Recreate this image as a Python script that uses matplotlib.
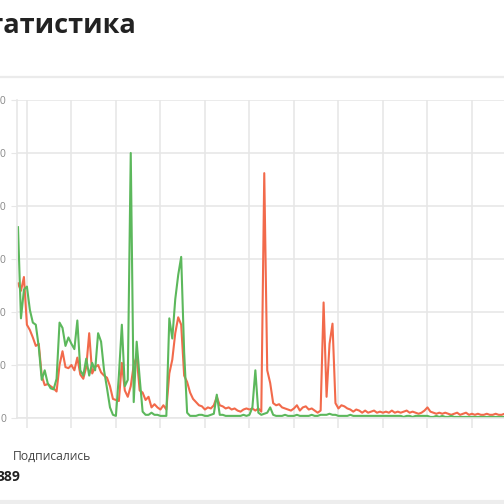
import matplotlib.pyplot as plt
from matplotlib.lines import Line2D

# Данные (по дням)
podpisalis = [180, 94, 121, 124, 102, 90, 88, 67, 36, 45, 33, 28, 27, 37, 90, 85, 68, 76, 70, 65,
              92, 45, 40, 56, 40, 52, 45, 80, 72, 45, 28, 10, 3, 2, 40, 88, 30, 36, 250, 15,
              72, 38, 6, 3, 3, 5, 3, 3, 2, 2, 2, 94, 75, 112, 135, 152, 62, 5, 2, 2,
              2, 3, 3, 2, 2, 3, 4, 22, 3, 3, 2, 2, 2, 2, 2, 2, 3, 2, 3, 10,
              45, 5, 3, 4, 5, 10, 3, 2, 2, 2, 3, 2, 2, 2, 3, 2, 2, 2, 2, 3,
              2, 2, 3, 3, 3, 4, 3, 3, 2, 2, 2, 2, 3, 2, 2, 2, 2, 2, 2, 2,
              2, 2, 2, 2, 2, 2, 2, 2, 2, 2, 1, 2, 2, 1, 2, 2, 2, 2, 2, 1,
              1, 2, 1, 2, 1, 1, 2, 1, 1, 1, 1, 1, 1, 1, 1, 1, 1, 1, 1, 1,
              1, 1, 1, 1, 1, 1]
otpisalis = [127, 120, 133, 88, 83, 76, 68, 70, 40, 31, 32, 30, 28, 25, 50, 63, 48, 47, 50, 45,
             57, 41, 37, 48, 80, 42, 48, 50, 43, 40, 38, 30, 18, 17, 16, 52, 26, 20, 30, 50,
             58, 26, 24, 17, 20, 10, 13, 10, 8, 12, 8, 42, 55, 80, 95, 88, 40, 34, 24, 18,
             15, 12, 11, 8, 10, 9, 12, 20, 12, 11, 9, 10, 8, 9, 7, 6, 8, 9, 8, 9,
             7, 9, 6, 231, 45, 33, 14, 12, 13, 10, 9, 8, 7, 9, 12, 7, 10, 11, 8, 9,
             7, 5, 7, 109, 20, 70, 89, 14, 9, 12, 11, 9, 8, 6, 8, 7, 5, 7, 5, 6,
             7, 5, 6, 5, 6, 5, 7, 5, 6, 5, 6, 7, 5, 6, 5, 4, 5, 7, 10, 6,
             5, 4, 5, 4, 5, 4, 3, 4, 5, 3, 4, 5, 3, 4, 3, 4, 3, 3, 4, 3,
             3, 4, 3, 3, 4, 3]
y_ticks = [0, 50, 100, 150, 200, 250, 300]

GREEN = '#5cb85c'
RED = '#f26a4b'
GRID = '#e7e7e7'

fig = plt.figure(figsize=(5.04, 5.04), dpi=100)
plt.rcParams['font.family'] = ['Open Sans', 'DejaVu Sans']

# верхний и нижний разделители
fig.add_artist(Line2D([0, 1], [1 - 77 / 504, 1 - 77 / 504], color='#ebebeb', lw=1.6))
fig.add_artist(Line2D([0, 1], [1 - 502 / 504, 1 - 502 / 504], color='#ededed', lw=3))

fig.text(136 / 504, 1 - 26 / 504, 'Статистика', ha='right', va='center',
         fontsize=19.5, fontweight='bold', color='#222222')
fig.text(13 / 504, 1 - 456 / 504, 'Подписались', ha='left', va='center',
         fontsize=8.7, color='#444444')
fig.text(20 / 504, 1 - 477 / 504, '389', ha='right', va='center',
         fontsize=10, fontweight='bold', color='#222222')

# оси выходят за правый край картинки
ax = fig.add_axes([17 / 504, 86 / 504, (530 - 17) / 504, 318 / 504])
step = 2.967
x = [18 + i * step for i in range(len(podpisalis))]
ax.plot(x, otpisalis, color=RED, lw=1.5)
ax.plot(x, podpisalis, color=GREEN, lw=1.5)

ax.set_xlim(17, 530)
ax.set_ylim(0, 300)
ax.set_yticks(y_ticks)
ax.set_yticklabels([str(v) for v in y_ticks], fontsize=7.5, color='#888888')
ax.set_xticks([18 + k * step for k in range(3, len(x), 15)])
ax.set_xticklabels([])
ax.tick_params(axis='y', length=4, color=GRID, pad=4)
ax.tick_params(axis='x', length=7, color=GRID, width=1.2)
ax.grid(True, color=GRID, lw=1.2)
ax.set_axisbelow(True)
for s in ['top', 'right']:
    ax.spines[s].set_visible(False)
ax.spines['left'].set_color(GRID)
ax.spines['bottom'].set_color(GRID)
ax.spines['left'].set_linewidth(1.2)
ax.spines['bottom'].set_linewidth(1.2)

plt.savefig('out.png', dpi=100)
